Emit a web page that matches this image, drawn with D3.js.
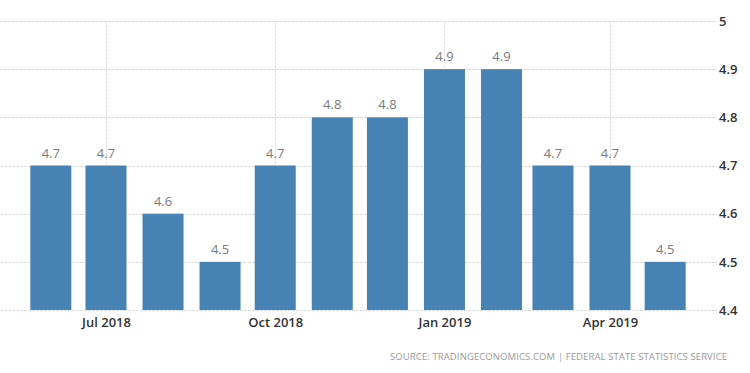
<!DOCTYPE html>
<html>
<head>
<meta charset="utf-8">
<script src="https://cdn.jsdelivr.net/npm/d3@7"></script>
<style>
  body { margin: 0; background: #fff; }
  svg { display: block; font-family: "Open Sans", "DejaVu Sans", sans-serif; }
</style>
</head>
<body>
<script>
// monthly values, Jun 2018 .. May 2019
const months = ["2018-06-01", "2018-07-01", "2018-08-01", "2018-09-01", "2018-10-01", "2018-11-01",
                "2018-12-01", "2019-01-01", "2019-02-01", "2019-03-01", "2019-04-01", "2019-05-01"];
const values = [4.7, 4.7, 4.6, 4.5, 4.7, 4.8, 4.8, 4.9, 4.9, 4.7, 4.7, 4.5];
const yTicks = [4.4, 4.5, 4.6, 4.7, 4.8, 4.9, 5];
const sourceText = "SOURCE: TRADINGECONOMICS.COM  |  FEDERAL STATE STATISTICS SERVICE";

const msm = { width: 750, height: 373, gridLeft: 0, gridRight: 717, top: 21, bottom: 310 }

const parse = d3.utcParse("%Y-%m-%d");
const data = months.map((m, i) => ({ date: parse(m), value: values[i] }));

const svg = d3.select("body").append("svg")
    .attr("width", msm.width)
    .attr("height", msm.height);

// time axis, anchored on Jul 2018 and Apr 2019 gridlines
const xScale = d3.scaleUtc()
    .domain([parse("2018-07-01"), parse("2019-04-01")])
    .range([106, 610]);

const yScale = d3.scaleLinear()
    .domain([4.4, 5])
    .range([msm.bottom, msm.top]);

const barWidth = 41;

// horizontal gridlines
svg.append("g").selectAll("line").data(yTicks)
    .enter().append("line")
    .attr("x1", msm.gridLeft)
    .attr("x2", msm.gridRight)
    .attr("y1", d => Math.round(yScale(d)) + 0.5)
    .attr("y2", d => Math.round(yScale(d)) + 0.5)
    .attr("stroke", "#dcdcdc")
    .attr("stroke-dasharray", "3,1");

// vertical gridlines at quarter ticks
const xTicks = d3.utcMonth.every(3).range(parse("2018-06-01"), parse("2019-05-02"));
svg.append("g").selectAll("line").data(xTicks)
    .enter().append("line")
    .attr("x1", d => Math.round(xScale(d)) + 0.5)
    .attr("x2", d => Math.round(xScale(d)) + 0.5)
    .attr("y1", msm.top)
    .attr("y2", msm.bottom)
    .attr("stroke", "#e2e2e2")
    .attr("stroke-dasharray", "3,1");

// bars
svg.append("g").selectAll("rect").data(data)
    .enter().append("rect")
    .attr("x", d => xScale(d.date) - barWidth / 2)
    .attr("y", d => yScale(d.value))
    .attr("width", barWidth)
    .attr("height", d => yScale(4.4) - yScale(d.value))
    .attr("fill", "#4682b4");

// value labels
svg.append("g").selectAll("text").data(data)
    .enter().append("text")
    .attr("x", d => xScale(d.date))
    .attr("y", d => yScale(d.value) - 8)
    .attr("text-anchor", "middle")
    .style("font-size", "13px")
    .attr("fill", "#7a7a7a")
    .text(d => d.value.toFixed(1));

// x axis labels
const xAxis = d3.axisBottom(xScale)
    .tickValues(xTicks)
    .tickFormat(d3.utcFormat("%b %Y"))
    .tickSize(0)
    .tickPadding(8);
svg.append("g")
    .attr("transform", "translate(0," + msm.bottom + ")")
    .call(xAxis)
    .call(g => g.select(".domain").remove())
    .call(g => g.selectAll("text")
        .style("font-size", "13px")
        .style("font-family", "'Open Sans', sans-serif")
        .style("font-weight", "600")
        .attr("fill", "#333"));

// y axis labels, right side
const yAxis = d3.axisRight(yScale)
    .tickValues(yTicks)
    .tickFormat(d => d3.format("")(d))
    .tickSize(0)
    .tickPadding(0);
svg.append("g")
    .attr("transform", "translate(719,0)")
    .call(yAxis)
    .call(g => g.select(".domain").remove())
    .call(g => g.selectAll("text")
        .style("font-size", "13px")
        .style("font-family", "'Open Sans', sans-serif")
        .style("font-weight", "600")
        .attr("fill", "#333"));

// source line
svg.append("text")
    .attr("x", 390)
    .attr("y", 360)
    .attr("textLength", 337)
    .attr("lengthAdjust", "spacing")
    .style("font-size", "9.5px")
    .attr("fill", "#999")
    .text(sourceText);
</script>
</body>
</html>
